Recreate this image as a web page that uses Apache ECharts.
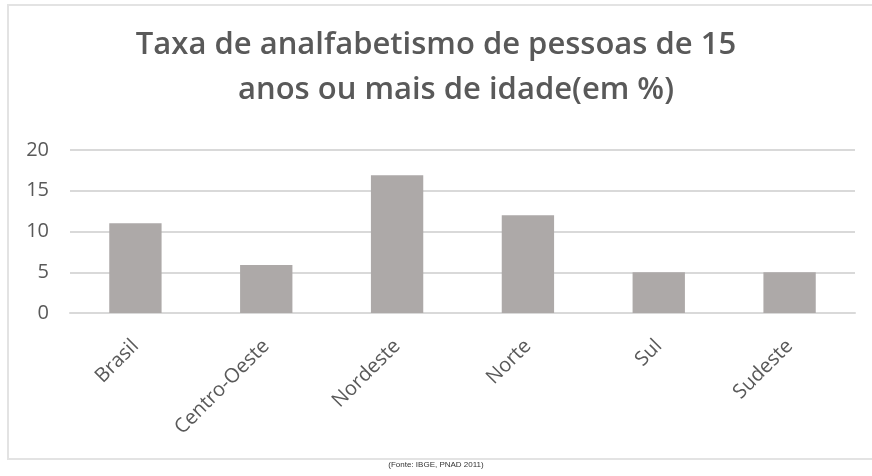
<!DOCTYPE html>
<html>
<head>
<meta charset="utf-8">
<script src="https://cdn.jsdelivr.net/npm/echarts@6/dist/echarts.min.js"></script>
<style>
html,body{margin:0;padding:0;background:#fff;}
#chart{width:872px;height:476px;}
</style>
</head>
<body>
<div id="chart"></div>
<script>
const categories = ['Brasil', 'Centro-Oeste', 'Nordeste', 'Norte', 'Sul', 'Sudeste'];
const values = [11, 5.9, 16.9, 12, 5, 5];
const yTicks = [0, 5, 10, 15, 20];
const titleLine1 = 'Taxa de analfabetismo de pessoas de 15';
const titleLine2 = 'anos ou mais de idade(em %)';
const sourceText = '(Fonte: IBGE, PNAD 2011)';

const titleStyle = {
  fontFamily: 'Open Sans',
  fontSize: 31,
  fontWeight: 600,
  color: '#595959',
  lineHeight: 45
};

const chart = echarts.init(document.getElementById('chart'));
chart.setOption({
  animation: false,
  backgroundColor: '#ffffff',
  title: [
    { text: titleLine1, left: 'center', top: 23, padding: 0, textStyle: titleStyle },
    { text: titleLine2, left: 238, top: 68, padding: 0, textStyle: titleStyle }
  ],
  graphic: [
    {
      type: 'rect',
      shape: { x: 8, y: 5, width: 880, height: 454 },
      style: { fill: 'none', stroke: '#e3e3e3', lineWidth: 2 },
      silent: true
    },
    {
      type: 'text',
      left: 'center',
      top: 461,
      style: {
        text: sourceText,
        fontFamily: 'Liberation Sans Narrow, Liberation Sans',
        fontSize: 8,
        fill: '#333333'
      }
    }
  ],
  grid: {
    left: 70,
    right: 17,
    top: 150,
    bottom: 163,
    containLabel: false
  },
  xAxis: {
    type: 'category',
    data: categories,
    axisLine: { show: true, lineStyle: { color: '#d9d9d9', width: 2 } },
    axisTick: { show: false },
    axisLabel: {
      rotate: 45,
      margin: 30,
      fontFamily: 'Open Sans',
      fontSize: 20,
      color: '#595959'
    }
  },
  yAxis: {
    type: 'value',
    min: yTicks[0],
    max: yTicks[yTicks.length - 1],
    interval: 5,
    axisLine: { show: false },
    axisTick: { show: false },
    splitLine: { lineStyle: { color: '#d9d9d9', width: 2 } },
    axisLabel: {
      margin: 21,
      fontFamily: 'Open Sans',
      fontSize: 20,
      color: '#595959'
    }
  },
  series: [{
    type: 'bar',
    data: values,
    barWidth: '40%',
    itemStyle: { color: '#ada9a8' },
    silent: true
  }]
});
</script>
</body>
</html>
